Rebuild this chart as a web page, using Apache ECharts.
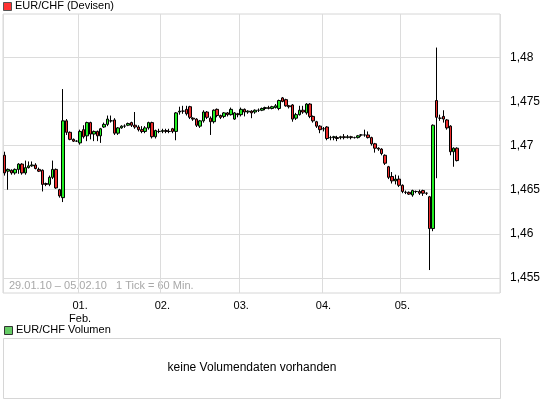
<!DOCTYPE html>
<html>
<head>
<meta charset="utf-8">
<script src="https://cdn.jsdelivr.net/npm/echarts@6/dist/echarts.min.js"></script>
<style>
  html, body { margin: 0; padding: 0; background: #fff; }
  #main { width: 545px; height: 407px; }
</style>
</head>
<body>
<div id="main"></div>
<script>
  // one candle per hour, [open, close, low, high]
  var candles = [
    [1.4689, 1.4669, 1.4666, 1.4693], [1.4671, 1.4673, 1.4650, 1.4674], [1.4672, 1.4669, 1.4667, 1.4673],
    [1.4669, 1.4673, 1.4667, 1.4674], [1.4673, 1.4679, 1.4668, 1.4680], [1.4679, 1.4669, 1.4667, 1.4680],
    [1.4669, 1.4675, 1.4667, 1.4683], [1.4675, 1.4677, 1.4674, 1.4682], [1.4677, 1.4678, 1.4676, 1.4682],
    [1.4678, 1.4674, 1.4673, 1.4680], [1.4673, 1.4671, 1.4670, 1.4675], [1.4672, 1.4656, 1.4648, 1.4673],
    [1.4657, 1.4656, 1.4654, 1.4658], [1.4656, 1.4664, 1.4654, 1.4666], [1.4664, 1.4673, 1.4662, 1.4683],
    [1.4673, 1.4652, 1.4651, 1.4674], [1.4650, 1.4643, 1.4641, 1.4651], [1.4641, 1.4728, 1.4636, 1.4764],
    [1.4728, 1.4715, 1.4712, 1.4730], [1.4715, 1.4707, 1.4706, 1.4716], [1.4707, 1.4705, 1.4704, 1.4708],
    [1.4705, 1.4705, 1.4704, 1.4706], [1.4703, 1.4716, 1.4701, 1.4718], [1.4718, 1.4710, 1.4708, 1.4723],
    [1.4711, 1.4726, 1.4705, 1.4727], [1.4726, 1.4713, 1.4707, 1.4727], [1.4713, 1.4716, 1.4705, 1.4717],
    [1.4716, 1.4711, 1.4705, 1.4717], [1.4711, 1.4719, 1.4703, 1.4720], [1.4721, 1.4724, 1.4720, 1.4726],
    [1.4724, 1.4730, 1.4722, 1.4734], [1.4728, 1.4728, 1.4726, 1.4734], [1.4729, 1.4714, 1.4712, 1.4731],
    [1.4714, 1.4720, 1.4712, 1.4721], [1.4720, 1.4722, 1.4719, 1.4723], [1.4722, 1.4722, 1.4720, 1.4724],
    [1.4723, 1.4725, 1.4722, 1.4726], [1.4726, 1.4723, 1.4721, 1.4727], [1.4723, 1.4721, 1.4719, 1.4738],
    [1.4721, 1.4718, 1.4716, 1.4723], [1.4718, 1.4716, 1.4714, 1.4722], [1.4716, 1.4720, 1.4714, 1.4722],
    [1.4720, 1.4726, 1.4718, 1.4727], [1.4726, 1.4710, 1.4708, 1.4727], [1.4710, 1.4717, 1.4708, 1.4718],
    [1.4716, 1.4716, 1.4714, 1.4719], [1.4716, 1.4717, 1.4714, 1.4719], [1.4717, 1.4716, 1.4714, 1.4719],
    [1.4716, 1.4716, 1.4714, 1.4719], [1.4719, 1.4716, 1.4714, 1.4720], [1.4716, 1.4737, 1.4706, 1.4738],
    [1.4738, 1.4739, 1.4735, 1.4744], [1.4739, 1.4739, 1.4736, 1.4745], [1.4741, 1.4736, 1.4734, 1.4745],
    [1.4744, 1.4732, 1.4730, 1.4745], [1.4731, 1.4730, 1.4728, 1.4732], [1.4730, 1.4723, 1.4721, 1.4731],
    [1.4722, 1.4728, 1.4720, 1.4729], [1.4728, 1.4738, 1.4726, 1.4740], [1.4738, 1.4732, 1.4730, 1.4739],
    [1.4731, 1.4727, 1.4712, 1.4733], [1.4727, 1.4740, 1.4725, 1.4741], [1.4741, 1.4734, 1.4732, 1.4742],
    [1.4734, 1.4732, 1.4730, 1.4735], [1.4733, 1.4737, 1.4731, 1.4738], [1.4737, 1.4735, 1.4733, 1.4738],
    [1.4735, 1.4741, 1.4734, 1.4743], [1.4730, 1.4737, 1.4729, 1.4738], [1.4736, 1.4735, 1.4732, 1.4737],
    [1.4735, 1.4741, 1.4733, 1.4743], [1.4741, 1.4738, 1.4733, 1.4742], [1.4738, 1.4739, 1.4736, 1.4740],
    [1.4739, 1.4737, 1.4731, 1.4740], [1.4738, 1.4740, 1.4736, 1.4741], [1.4740, 1.4740, 1.4738, 1.4742],
    [1.4740, 1.4742, 1.4739, 1.4743], [1.4742, 1.4743, 1.4740, 1.4744], [1.4743, 1.4742, 1.4741, 1.4745],
    [1.4742, 1.4744, 1.4741, 1.4745], [1.4743, 1.4745, 1.4742, 1.4747], [1.4742, 1.4751, 1.4740, 1.4752],
    [1.4754, 1.4750, 1.4749, 1.4755], [1.4752, 1.4745, 1.4744, 1.4753], [1.4745, 1.4744, 1.4742, 1.4746],
    [1.4746, 1.4730, 1.4727, 1.4747], [1.4731, 1.4735, 1.4729, 1.4737], [1.4735, 1.4740, 1.4734, 1.4745],
    [1.4740, 1.4738, 1.4736, 1.4745], [1.4737, 1.4747, 1.4735, 1.4748], [1.4747, 1.4733, 1.4731, 1.4748],
    [1.4733, 1.4728, 1.4726, 1.4734], [1.4727, 1.4722, 1.4720, 1.4728], [1.4722, 1.4718, 1.4714, 1.4723],
    [1.4719, 1.4719, 1.4716, 1.4721], [1.4721, 1.4708, 1.4706, 1.4722], [1.4709, 1.4709, 1.4706, 1.4711],
    [1.4709, 1.4710, 1.4706, 1.4711], [1.4709, 1.4708, 1.4705, 1.4711], [1.4709, 1.4710, 1.4707, 1.4711],
    [1.4710, 1.4709, 1.4707, 1.4713], [1.4709, 1.4710, 1.4708, 1.4712], [1.4710, 1.4709, 1.4707, 1.4711],
    [1.4709, 1.4709, 1.4708, 1.4710], [1.4709, 1.4711, 1.4708, 1.4712], [1.4712, 1.4712, 1.4710, 1.4713],
    [1.4712, 1.4712, 1.4710, 1.4718], [1.4712, 1.4709, 1.4708, 1.4716], [1.4709, 1.4702, 1.4700, 1.4710],
    [1.4702, 1.4697, 1.4692, 1.4703], [1.4697, 1.4696, 1.4694, 1.4698], [1.4696, 1.4691, 1.4689, 1.4697],
    [1.4689, 1.4680, 1.4678, 1.4690], [1.4676, 1.4664, 1.4662, 1.4677], [1.4665, 1.4660, 1.4657, 1.4670],
    [1.4660, 1.4662, 1.4656, 1.4667], [1.4662, 1.4655, 1.4653, 1.4666], [1.4655, 1.4648, 1.4646, 1.4656],
    [1.4647, 1.4647, 1.4645, 1.4649], [1.4647, 1.4645, 1.4644, 1.4648], [1.4644, 1.4649, 1.4642, 1.4650],
    [1.4648, 1.4648, 1.4646, 1.4649], [1.4648, 1.4646, 1.4644, 1.4650], [1.4649, 1.4646, 1.4643, 1.4650],
    [1.4646, 1.4646, 1.4644, 1.4647], [1.4642, 1.4606, 1.4559, 1.4643], [1.4606, 1.4723, 1.4603, 1.4724],
    [1.4751, 1.4732, 1.4663, 1.4811], [1.4731, 1.4731, 1.4728, 1.4735], [1.4733, 1.4730, 1.4726, 1.4740],
    [1.4729, 1.4720, 1.4718, 1.4730], [1.4722, 1.4693, 1.4689, 1.4723], [1.4693, 1.4697, 1.4676, 1.4698],
    [1.4697, 1.4683, 1.4682, 1.4698]
  ];
  var slotCount = 145;
  var dayLabels = { 22: '01.\nFeb.', 46: '02.', 69: '03.', 93: '04.', 116: '05.' };

  var slots = [], data = [];
  for (var i = 0; i < slotCount; i++) {
    slots.push(String(i));
    data.push(i < candles.length ? candles[i] : '-');
  }

  var font = 'Liberation Sans';
  var chart = echarts.init(document.getElementById('main'));

  chart.setOption({
    animation: false,
    grid: { left: 3, right: 45, top: 14, bottom: 114, show: true, borderColor: '#d6d6d6', borderWidth: 1 },
    xAxis: {
      type: 'category',
      data: slots,
      boundaryGap: true,
      axisLine: { show: false },
      axisTick: { show: false },
      axisLabel: {
        interval: function (idx) { return dayLabels[idx] !== undefined; },
        formatter: function (v) { return dayLabels[v]; },
        color: '#000', fontFamily: font, fontSize: 11, margin: 6, lineHeight: 13
      },
      splitLine: {
        show: true,
        interval: function (idx) { return dayLabels[idx] !== undefined || idx === 0; },
        lineStyle: { color: '#dcdcdc', width: 1 }
      }
    },
    yAxis: {
      type: 'value',
      position: 'right',
      min: 1.4533,
      max: 1.4849,
      splitNumber: 6,
      axisLine: { show: false },
      axisTick: { show: false },
      splitLine: { show: true, showMinLine: false, showMaxLine: false, lineStyle: { color: '#dcdcdc', width: 1 } },
      axisLabel: {
        showMinLabel: false, showMaxLabel: false, margin: 10,
        color: '#000', fontFamily: font, fontSize: 12,
        formatter: function (v) { return String(+v.toFixed(4)).replace('.', ','); }
      }
    },
    series: [{
      type: 'candlestick',
      data: data,
      barWidth: 3,
      itemStyle: { color: '#22ee22', color0: '#ee2b2b', borderColor: '#000', borderColor0: '#000', borderWidth: 1 }
    }],
    graphic: [
      { type: 'rect', left: 3, top: 2, shape: { width: 8, height: 8 }, style: { fill: '#ff3333', stroke: '#555', lineWidth: 1 } },
      { type: 'text', left: 15, top: 0, style: { text: 'EUR/CHF (Devisen)', fill: '#000', font: '11px ' + font } },
      { type: 'text', left: 9, top: 280, style: { text: '29.01.10 \u2013 05.02.10   1 Tick = 60 Min.', fill: '#a8a8a8', font: '11px ' + font } },
      { type: 'rect', left: 4, top: 326, shape: { width: 8, height: 8 }, style: { fill: '#66cc66', stroke: '#333', lineWidth: 1 } },
      { type: 'text', left: 16, top: 324, style: { text: 'EUR/CHF Volumen', fill: '#000', font: '11px ' + font } },
      { type: 'rect', left: 3, top: 338, shape: { width: 497, height: 60 }, style: { fill: '#fff', stroke: '#d6d6d6', lineWidth: 1 } },
      { type: 'text', x: 252, y: 368, style: { text: 'keine Volumendaten vorhanden', fill: '#000', font: '12px ' + font, align: 'center', verticalAlign: 'middle' } }
    ]
  });
</script>
</body>
</html>
